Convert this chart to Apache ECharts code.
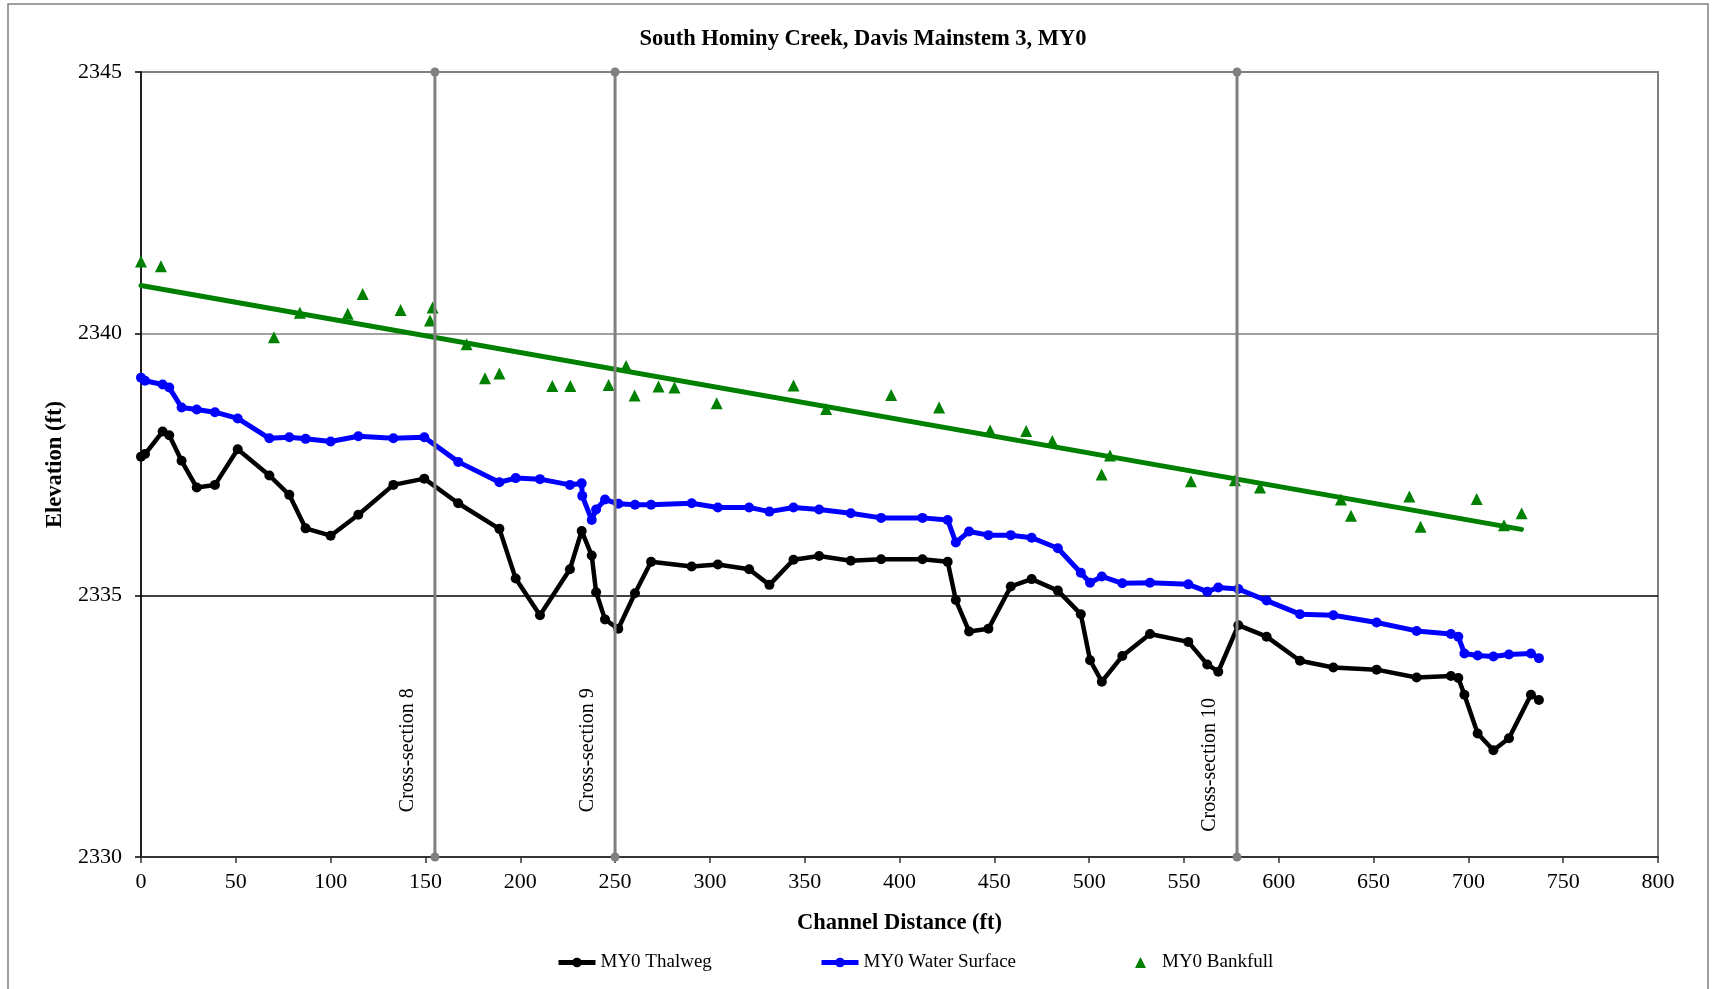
<!DOCTYPE html>
<html>
<head>
<meta charset="utf-8">
<script src="https://cdn.jsdelivr.net/npm/echarts@6/dist/echarts.min.js"></script>
<style>html,body{margin:0;padding:0;background:#fff;}#c{width:1716px;height:989px;}</style>
</head>
<body>
<div id="c"></div>
<script>
// ---- data ----
const thalwegX = [0, 2.1, 11.4, 14.9, 21.4, 29.4, 39.0, 51.0, 67.7, 78.2, 86.8, 100.0, 114.6, 133.1, 149.4, 167.3, 189.0, 197.6, 210.4, 226.2, 232.4, 237.7, 240.0, 244.7, 251.7, 260.5, 269.0, 290.4, 304.2, 320.7, 331.4, 344.1, 357.6, 374.3, 390.3, 412.1, 425.4, 429.7, 436.7, 446.9, 458.7, 469.7, 483.5, 495.6, 500.5, 506.7, 517.5, 532.1, 552.3, 562.3, 568.1, 578.7, 593.6, 611.2, 628.8, 651.6, 672.7, 690.8, 694.7, 697.9, 704.9, 713.2, 721.4, 733.0, 737.2];
const thalwegY = [2337.65, 2337.70, 2338.13, 2338.06, 2337.57, 2337.06, 2337.11, 2337.79, 2337.29, 2336.92, 2336.28, 2336.14, 2336.54, 2337.11, 2337.23, 2336.76, 2336.27, 2335.32, 2334.62, 2335.50, 2336.23, 2335.76, 2335.06, 2334.54, 2334.36, 2335.04, 2335.64, 2335.55, 2335.59, 2335.50, 2335.20, 2335.68, 2335.75, 2335.66, 2335.69, 2335.69, 2335.64, 2334.91, 2334.31, 2334.36, 2335.17, 2335.31, 2335.09, 2334.64, 2333.76, 2333.35, 2333.84, 2334.26, 2334.11, 2333.68, 2333.54, 2334.43, 2334.21, 2333.75, 2333.62, 2333.58, 2333.43, 2333.46, 2333.42, 2333.10, 2332.36, 2332.04, 2332.27, 2333.10, 2333.00];

const wsX = [0, 2.1, 11.4, 14.9, 21.4, 29.4, 39.0, 51.0, 67.7, 78.2, 86.8, 100.0, 114.6, 133.1, 149.4, 167.3, 189.0, 197.6, 210.4, 226.2, 232.4, 232.7, 237.7, 240.0, 244.7, 251.7, 260.5, 269.0, 290.4, 304.2, 320.7, 331.4, 344.1, 357.6, 374.3, 390.3, 412.1, 425.4, 429.7, 436.7, 446.9, 458.7, 469.7, 483.5, 495.6, 500.5, 506.7, 517.5, 532.1, 552.3, 562.3, 568.1, 578.7, 593.6, 611.2, 628.8, 651.6, 672.7, 690.8, 694.7, 697.9, 704.9, 713.2, 721.4, 733.0, 737.2];
const wsY = [2339.16, 2339.10, 2339.03, 2338.97, 2338.59, 2338.55, 2338.50, 2338.38, 2338.00, 2338.02, 2337.99, 2337.94, 2338.04, 2338.00, 2338.02, 2337.55, 2337.16, 2337.24, 2337.22, 2337.11, 2337.14, 2336.90, 2336.44, 2336.64, 2336.83, 2336.75, 2336.73, 2336.73, 2336.76, 2336.68, 2336.68, 2336.60, 2336.68, 2336.64, 2336.57, 2336.48, 2336.48, 2336.44, 2336.01, 2336.22, 2336.15, 2336.15, 2336.10, 2335.90, 2335.43, 2335.24, 2335.36, 2335.23, 2335.24, 2335.21, 2335.07, 2335.15, 2335.12, 2334.90, 2334.64, 2334.62, 2334.48, 2334.32, 2334.26, 2334.21, 2333.89, 2333.85, 2333.83, 2333.87, 2333.89, 2333.80];

const bfX = [0, 10.5, 70.1, 83.8, 109.0, 116.9, 136.9, 153.8, 152.4, 171.7, 181.4, 189.0, 216.9, 226.4, 246.6, 255.8, 260.3, 272.9, 281.3, 303.6, 344.1, 361.3, 395.6, 420.9, 447.8, 466.8, 480.6, 506.6, 511.0, 553.7, 576.9, 590.1, 632.8, 638.1, 668.9, 674.8, 704.4, 718.8, 728.1];
const bfY = [2341.38, 2341.29, 2339.93, 2340.40, 2340.38, 2340.76, 2340.45, 2340.50, 2340.25, 2339.80, 2339.15, 2339.24, 2339.00, 2339.00, 2339.02, 2339.38, 2338.82, 2338.99, 2338.97, 2338.67, 2339.01, 2338.56, 2338.83, 2338.59, 2338.15, 2338.14, 2337.95, 2337.31, 2337.67, 2337.18, 2337.20, 2337.06, 2336.83, 2336.52, 2336.89, 2336.31, 2336.84, 2336.34, 2336.57];

const trendX = [0, 728];
const trendY = [2340.92, 2336.26];

const xsX = [155, 250, 578];
const xsNames = ['Cross-section 8', 'Cross-section 9', 'Cross-section 10'];
const xsLabelY = [2332.04, 2332.04, 2331.76];

const yTicks = [2330, 2335, 2340, 2345];
const xMin = 0, xMax = 800, xStep = 50;

// ---- chart ----
const FONT = '"Liberation Serif", "Times New Roman", serif';
const zip = (a, b) => a.map((v, i) => [v, b[i]]);
const chart = echarts.init(document.getElementById('c'), null, {renderer: 'canvas'});

const series = [
  {
    name: 'MY0 Bankfull', type: 'scatter', data: zip(bfX, bfY),
    symbol: 'triangle', symbolSize: 12, itemStyle: {color: '#008000', opacity: 1}, z: 3
  },
  {
    name: 'trend', type: 'line', data: zip(trendX, trendY),
    showSymbol: false, symbol: 'none', lineStyle: {color: '#008000', width: 5, cap: 'round'}, z: 4
  },
  {
    name: 'MY0 Thalweg', type: 'line', data: zip(thalwegX, thalwegY),
    symbol: 'circle', symbolSize: 10, itemStyle: {color: '#000'}, lineStyle: {color: '#000', width: 4.5}, z: 5
  },
  {
    name: 'MY0 Water Surface', type: 'line', data: zip(wsX, wsY),
    symbol: 'circle', symbolSize: 10, itemStyle: {color: '#0000ff'}, lineStyle: {color: '#0000ff', width: 5}, z: 6
  }
];
xsX.forEach((x, i) => {
  series.push({
    name: xsNames[i], type: 'line', data: [[x, yTicks[0]], [x, yTicks[yTicks.length - 1]]],
    symbol: 'circle', symbolSize: 9, clip: false,
    itemStyle: {color: '#808080'}, lineStyle: {color: '#808080', width: 3}, z: 7
  });
});

const legendBase = {
  top: 953, orient: 'horizontal', itemHeight: 12, padding: 0,
  lineStyle: {width: 5},
  textStyle: {fontFamily: FONT, fontSize: 19, color: '#000'}
};

chart.setOption({
  animation: false,
  backgroundColor: '#fff',
  title: {
    text: 'South Hominy Creek, Davis Mainstem 3, MY0',
    left: 863, top: 28, textAlign: 'center', padding: 0,
    textStyle: {fontFamily: FONT, fontSize: 22.5, fontWeight: 'bold', color: '#000'}
  },
  grid: {left: 141, right: 58, top: 72, bottom: 132, show: true, borderColor: '#808080', borderWidth: 2, backgroundColor: '#fff'},
  xAxis: {
    type: 'value', min: xMin, max: xMax, interval: xStep,
    name: 'Channel Distance (ft)', nameLocation: 'middle', nameGap: 55,
    nameTextStyle: {fontFamily: FONT, fontSize: 22.5, fontWeight: 'bold', color: '#000'},
    axisLine: {show: true, onZero: false, lineStyle: {color: '#333', width: 2}},
    axisTick: {show: true, length: 6, lineStyle: {color: '#333', width: 1.5}},
    axisLabel: {fontFamily: FONT, fontSize: 22, color: '#000', margin: 14},
    splitLine: {show: false}
  },
  yAxis: {
    type: 'value', min: yTicks[0], max: yTicks[yTicks.length - 1], interval: 5,
    name: 'Elevation (ft)', nameLocation: 'middle', nameGap: 66,
    nameTextStyle: {fontFamily: FONT, fontSize: 22.5, fontWeight: 'bold', color: '#000'},
    axisLine: {show: true, onZero: false, lineStyle: {color: '#000', width: 1.5}},
    axisTick: {show: true, length: 6, lineStyle: {color: '#000', width: 1.5}},
    axisLabel: {fontFamily: FONT, fontSize: 22, color: '#000', margin: 19, formatter: v => String(v)},
    splitLine: {show: true, lineStyle: {color: ['#000', '#000', '#808080', '#808080'], width: 1.5}}
  },
  legend: [
    Object.assign({}, legendBase, {data: ['MY0 Thalweg'], left: 556, itemWidth: 37}),
    Object.assign({}, legendBase, {data: ['MY0 Water Surface'], left: 819, itemWidth: 37}),
    Object.assign({}, legendBase, {data: ['MY0 Bankfull'], left: 1135, itemWidth: 11, itemHeight: 11,
      textStyle: {fontFamily: FONT, fontSize: 19, color: '#000', padding: [0, 0, 0, 11]}})
  ],
  series: series
});

// cross-section labels positioned through the grid's scales
const graphics = [{
  type: 'rect', silent: true, z: 100,
  shape: {x: 8, y: 4, width: 1700, height: 1000},
  style: {fill: 'none', stroke: '#808080', lineWidth: 1.5}
}];
xsX.forEach((x, i) => {
  const p = chart.convertToPixel({gridIndex: 0}, [x, xsLabelY[i]]);
  graphics.push({
    type: 'text', silent: true, z: 50,
    x: p[0] - 27, y: p[1], rotation: Math.PI / 2,
    style: {text: xsNames[i], font: '20px ' + FONT, fill: '#000', align: 'center', verticalAlign: 'middle'}
  });
});
chart.setOption({graphic: graphics});
</script>
</body>
</html>
